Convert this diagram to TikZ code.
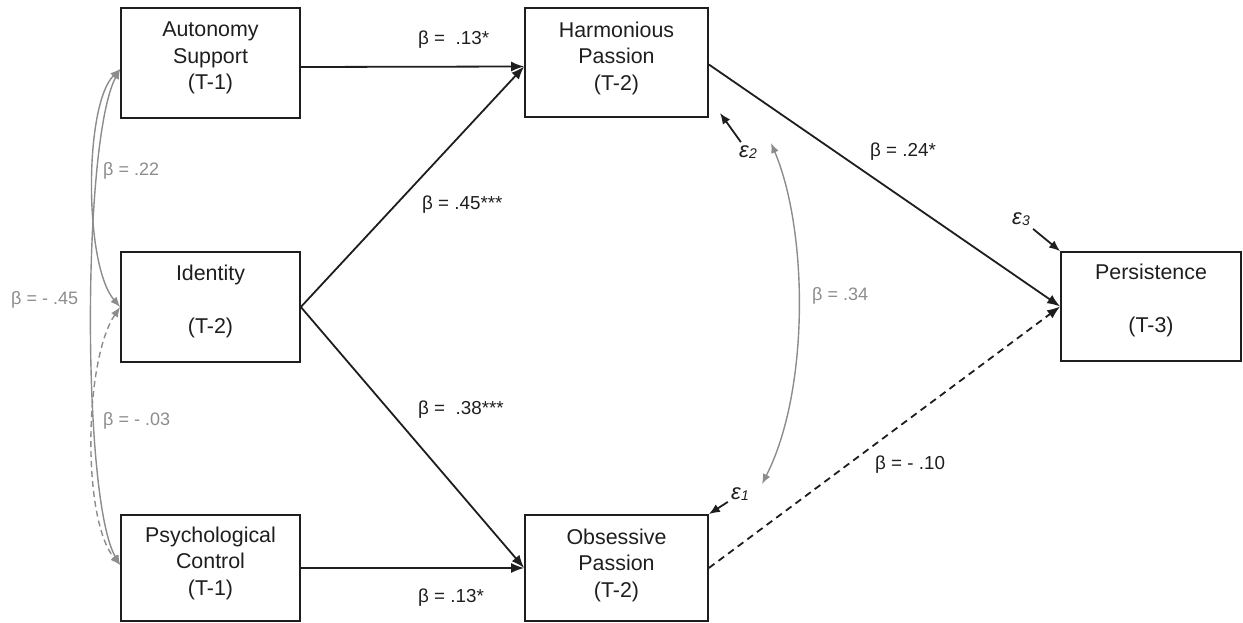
\documentclass[tikz,border=0pt]{standalone}
\usepackage{fontspec}
\setmainfont{Liberation Sans}
\usetikzlibrary{arrows.meta}
\definecolor{ink}{RGB}{30,30,30}
\definecolor{gline}{RGB}{140,140,140}
\definecolor{gtext}{RGB}{140,140,140}
\begin{document}
\begin{tikzpicture}[x=1pt,y=-1pt,
  box/.style={draw=ink,line width=1.7pt,rectangle,inner sep=0pt},
  boxtext/.style={text=ink,align=center,inner sep=0pt,font=\fontsize{21.4}{26.5}\selectfont},
  coef/.style={text=ink,anchor=west,inner sep=0pt,font=\fontsize{18.8}{22}\selectfont},
  gcoef/.style={text=gtext,anchor=west,inner sep=0pt,font=\fontsize{18}{22}\selectfont},
  eps/.style={text=ink,inner sep=3pt,font=\fontsize{22}{24}\selectfont\itshape},
  blk/.style={draw=ink,line width=1.8pt,-{Latex[length=13pt,width=10pt]}},
  gry/.style={draw=gline,line width=1.4pt,{Latex[length=10pt,width=8pt]}-{Latex[length=10pt,width=8pt]}}
]
\useasboundingbox (0,0) rectangle (1243,623);

% boxes
\node[box,minimum width=179pt,minimum height=110pt] (as) at (210.5,63) {};
\node[box,minimum width=179pt,minimum height=110pt] (id) at (210.5,307) {};
\node[box,minimum width=179pt,minimum height=106pt] (pc) at (210.5,568) {};
\node[box,minimum width=183pt,minimum height=109pt] (hp) at (616.5,62.5) {};
\node[box,minimum width=183pt,minimum height=106pt] (op) at (616.5,568) {};
\node[box,minimum width=180pt,minimum height=109pt] (pe) at (1151,306.5) {};

% box texts
\node[boxtext] (as-t) at (210.5,58) {Autonomy\\Support\\(T-1)};
\node[boxtext] (id-t) at (210.5,301) {Identity\\[26.5pt](T-2)};
\node[boxtext] (pc-t) at (210.5,563) {Psychological\\Control\\(T-1)};
\node[boxtext] (hp-t) at (616.5,58) {Harmonious\\Passion\\(T-2)};
\node[boxtext] (op-t) at (616.5,565) {Obsessive\\Passion\\(T-2)};
\node[boxtext] (pe-t) at (1151,300.5) {Persistence\\[26.5pt](T-3)};

% black paths
\draw[blk] ([yshift=-4pt]as.east) -- ([yshift=-4pt]hp.west);
\draw[blk] (id.east) -- ([yshift=-4pt]hp.west);
\draw[blk] (id.east) -- (op.west);
\draw[blk] (pc.east) -- (op.west);
\draw[blk] ([yshift=-2pt]hp.east) -- (pe.west);
\draw[blk,dashed,dash pattern=on 7pt off 5pt] (op.east) -- (pe.west);

% coefficients
\node[coef] (c1) at (418,40) {β =\ \ .13*};
\node[coef] (c2) at (422,205) {β = .45***};
\node[coef] (c3) at (418,410) {β =\ \ .38***};
\node[coef] (c4) at (418,598) {β = .13*};
\node[coef] (c5) at (870,152) {β = .24*};
\node[coef] (c6) at (875,465) {β = - .10};

% residuals
\node[eps] (e2) at (748,152) {ε\kern0.5pt\raisebox{-1.5pt}{\fontsize{14}{14}\selectfont 2}};
\node[eps] (e1) at (740,494) {ε\kern0.5pt\raisebox{-1.5pt}{\fontsize{14}{14}\selectfont 1}};
\node[eps] (e3) at (1021,219) {ε\kern0.5pt\raisebox{-1.5pt}{\fontsize{14}{14}\selectfont 3}};
\coordinate (e2tip) at (720,113);
\draw[blk,-{Latex[length=11pt,width=9pt]}] (e2) -- (e2tip);
\draw[blk,-{Latex[length=11pt,width=9pt]}] (e1) -- (op.north east);
\draw[blk,-{Latex[length=11pt,width=9pt]}] (e3) -- (pe.north west);

% residual covariance
\coordinate (k2) at (771,143);
\coordinate (k1) at (762,484);
\draw[gry] (k2) .. controls (808,230) and (810,390) .. (k1);
\node[gcoef] (g34) at (812,296) {β = .34};

% exogenous covariances
\draw[gry] ([yshift=-6pt]as.west) .. controls (84,105) and (84,265) .. (id.west);
\draw[gry] ([yshift=-6pt]as.west) .. controls (82,140) and (82,500) .. ([yshift=3pt]pc.west);
\draw[gry,dashed,dash pattern=on 6pt off 4pt] (id.west) .. controls (84,360) and (82,520) .. ([yshift=3pt]pc.west);
\node[gcoef] (g22) at (103,171) {β = .22};
\node[gcoef] (g45) at (11,300) {β = - .45};
\node[gcoef] (g03) at (103,421) {β = - .03};
\end{tikzpicture}
\end{document}
